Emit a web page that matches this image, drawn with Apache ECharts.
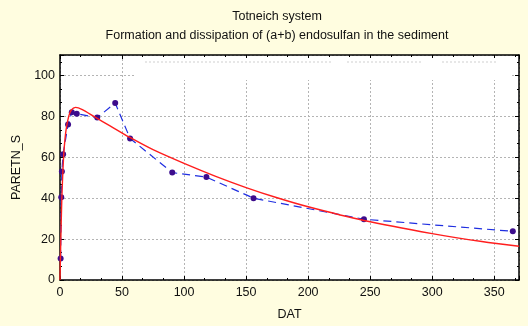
<!DOCTYPE html>
<html>
<head>
<meta charset="utf-8">
<script src="https://cdn.jsdelivr.net/npm/echarts@6/dist/echarts.min.js"></script>
<style>
  html, body { margin: 0; padding: 0; background: #fffde0; }
  #chart { width: 528px; height: 326px; }
</style>
</head>
<body>
<div id="chart"></div>
<script>
// Measured sediment residues (days after treatment, PARETN_S)
const obsDays   = [0.5, 1, 1.5, 2.5, 6.5, 9.5, 13.5, 30, 44.5, 56.5, 90.5, 118, 156, 245, 365];
const obsValues = [10.5, 40.5, 53, 61.5, 76, 82, 81.3, 79.4, 86.5, 69.2, 52.5, 50.3, 40, 29.7, 23.8];

// Fitted formation/dissipation curve, sampled
const fitDays   = [0, 0.5, 1, 1.6, 2.4, 3.2, 4.8, 7, 9, 12.5, 18, 28, 40, 56, 75, 100, 125, 150, 175, 200, 245, 300, 340, 370];
const fitValues = [0, 15, 29, 42, 54, 63, 73, 80, 83, 84.4, 83.3, 79.7, 75.5, 69.8, 63.7, 57, 50.8, 45.2, 40.2, 35.8, 29.1, 22.7, 18.8, 16.5];

const titleMain = 'Totneich system';
const titleSub  = 'Formation and dissipation of (a+b) endosulfan in the sediment';
const xName = 'DAT';
const yName = 'PARETN_S';

const FONT = '"Liberation Sans", Arial, sans-serif';
const zip = (a, b) => a.map((v, i) => [v, b[i]]);

const chart = echarts.init(document.getElementById('chart'));

const gridLine = { show: true, lineStyle: { color: '#b4b4b4', type: [2, 2], width: 1 } };
const axisLine = { show: true, onZero: false, lineStyle: { color: '#000', width: 1.5 } };
const tick = { show: true, inside: true, length: 4, lineStyle: { color: '#000' } };
const minor = { show: true, splitNumber: 3, length: 2, lineStyle: { color: '#000' } };
const labelStyle = { fontFamily: FONT, fontSize: 12.5, color: '#111' };

chart.setOption({
  backgroundColor: '#fffde0',
  animation: false,
  grid: { left: 60, right: 9, top: 55, bottom: 43, show: true, backgroundColor: '#fff', borderWidth: 0 },
  xAxis: [
    {
      type: 'value', min: 0, max: 370, interval: 50,
      name: xName, nameLocation: 'middle', nameGap: 28,
      nameTextStyle: labelStyle,
      axisLine: axisLine, axisTick: tick, minorTick: minor,
      axisLabel: Object.assign({ margin: 6, showMaxLabel: false }, labelStyle),
      splitLine: gridLine
    },
    {
      type: 'value', min: 0, max: 370, interval: 50, position: 'top',
      axisLine: axisLine, axisTick: tick, minorTick: minor,
      axisLabel: { show: false }, splitLine: { show: false }
    }
  ],
  yAxis: [
    {
      type: 'value', min: 0, max: 110, interval: 20,
      name: yName, nameLocation: 'middle', nameGap: 34,
      nameTextStyle: labelStyle,
      axisLine: axisLine, axisTick: tick, minorTick: minor,
      axisLabel: Object.assign({ margin: 5, showMaxLabel: false }, labelStyle),
      splitLine: gridLine
    },
    {
      type: 'value', min: 0, max: 110, interval: 20, position: 'right',
      axisLine: axisLine, axisTick: tick, minorTick: minor,
      axisLabel: { show: false }, splitLine: { show: false }
    }
  ],
  series: [
    {
      type: 'line', name: 'observed', data: zip(obsDays, obsValues),
      symbol: 'circle', symbolSize: 6,
      itemStyle: { color: '#3c0c8c' },
      lineStyle: { color: '#1f2ee0', width: 1.2, type: [8, 5] },
      z: 3
    },
    {
      type: 'line', name: 'fit', data: zip(fitDays, fitValues),
      smooth: 0.3, showSymbol: false,
      lineStyle: { color: '#ff1e1e', width: 1.4 },
      z: 4
    }
  ],
  graphic: [
    { type: 'text', x: 277, y: 10, style: { text: titleMain, fontFamily: FONT, fontSize: 12.5, fill: '#111', textAlign: 'center' } },
    { type: 'text', x: 277, y: 29, style: { text: titleSub, fontFamily: FONT, fontSize: 12.5, fill: '#111', textAlign: 'center' } },
    // blank label band near the top of the plot
    { type: 'rect', shape: { x: 136, y: 58, width: 376, height: 22 }, style: { fill: '#fff' }, z: 10 },
    { type: 'line', shape: { x1: 145, y1: 62, x2: 332, y2: 62 }, style: { stroke: '#cfcfcf', lineWidth: 1, lineDash: [2, 2] }, z: 11 },
    { type: 'line', shape: { x1: 347, y1: 62, x2: 422, y2: 62 }, style: { stroke: '#cfcfcf', lineWidth: 1, lineDash: [2, 2] }, z: 11 },
    { type: 'line', shape: { x1: 442, y1: 62, x2: 498, y2: 62 }, style: { stroke: '#cfcfcf', lineWidth: 1, lineDash: [2, 2] }, z: 11 }
  ]
});
</script>
</body>
</html>
